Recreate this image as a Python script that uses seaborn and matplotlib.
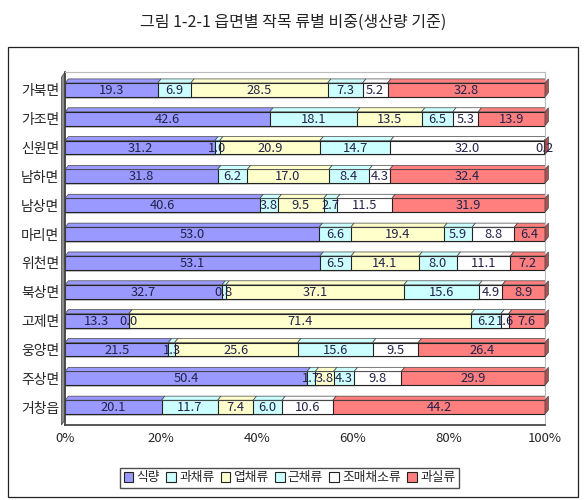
import numpy as np
import pandas as pd
import matplotlib
matplotlib.use("Agg")
import matplotlib.pyplot as plt
from matplotlib.patches import Rectangle, Polygon
import seaborn as sns

# 읍면 (top to bottom as drawn)
regions = ['가북면', '가조면', '신원면', '남하면', '남상면', '마리면',
           '위천면', '북상면', '고제면', '웅양면', '주상면', '거창읍']
categories = ['식량', '과채류', '엽채류', '근채류', '조매채소류', '과실류']

food = [19.3, 42.6, 31.2, 31.8, 40.6, 53.0, 53.1, 32.7, 13.3, 21.5, 50.4, 20.1]
fruit_veg = [6.9, 18.1, 1.0, 6.2, 3.8, 6.6, 6.5, 0.8, 0.0, 1.3, 1.7, 11.7]
leaf_veg = [28.5, 13.5, 20.9, 17.0, 9.5, 19.4, 14.1, 37.1, 71.4, 25.6, 3.8, 7.4]
root_veg = [7.3, 6.5, 14.7, 8.4, 2.7, 5.9, 8.0, 15.6, 6.2, 15.6, 4.3, 6.0]
spice_veg = [5.2, 5.3, 32.0, 4.3, 11.5, 8.8, 11.1, 4.9, 1.6, 9.5, 9.8, 10.6]
fruit = [32.8, 13.9, 0.2, 32.4, 31.9, 6.4, 7.2, 8.9, 7.6, 26.4, 29.9, 44.2]

colors = ['#9999FF', '#CCFFFF', '#FFFFCC', '#CCFFFF', '#FFFFFF', '#FF7F7F']

df = pd.DataFrame({'region': regions, '식량': food, '과채류': fruit_veg,
                   '엽채류': leaf_veg, '근채류': root_veg,
                   '조매채소류': spice_veg, '과실류': fruit})
vals = df[categories].to_numpy()
pct = vals / vals.sum(axis=1, keepdims=True) * 100
cum = np.cumsum(pct, axis=1)

sns.set_theme(style='white')
plt.rcParams['font.family'] = ['Noto Sans CJK KR', 'DejaVu Sans']

fig = plt.figure(figsize=(5.86, 5.0), dpi=100)
ax = fig.add_axes([0.111, 0.15, 0.819, 0.706])

# stacked bars: draw cumulative totals from the longest down
for i in range(len(categories) - 1, -1, -1):
    sub = pd.DataFrame({'region': regions, 'x': cum[:, i]})
    sns.barplot(data=sub, x='x', y='region', orient='h', color=colors[i],
                width=0.48, edgecolor='#222222', linewidth=0.8,
                saturation=1, ax=ax, label=categories[i])

# 3D top strip and end face on each bar
dx, dy = 0.7, 0.14
for r in range(len(regions)):
    y_top = r - 0.24
    left = 0
    for i in range(len(categories)):
        right = cum[r, i]
        poly = Polygon([[left, y_top], [right, y_top],
                        [right + dx, y_top - dy], [left + dx, y_top - dy]],
                       closed=True, facecolor=colors[i], edgecolor='#444444',
                       linewidth=0.5, zorder=1)
        ax.add_patch(poly)
        left = right
    side = Polygon([[100, r - 0.24], [100 + dx, r - 0.24 - dy],
                    [100 + dx, r + 0.24 - dy], [100, r + 0.24]],
                   closed=True, facecolor='#B05050', edgecolor='#444444',
                   linewidth=0.5, zorder=3, clip_on=False)
    ax.add_patch(side)

# value labels
for r in range(len(regions)):
    left = 0
    for i in range(len(categories)):
        w = pct[r, i]
        ax.text(left + w / 2, r + 0.02, f'{vals[r, i]:.1f}', ha='center',
                va='center', fontsize=9.3, color='#22224A', zorder=5)
        left += w

ax.set_xlim(0, 100)
ax.set_ylim(11.62, -0.62)
ax.set_xticks([0, 20, 40, 60, 80, 100])
ax.set_xticklabels(['0%', '20%', '40%', '60%', '80%', '100%'], fontsize=9.5)
ax.set_xlabel('')
ax.set_ylabel('')
ax.tick_params(axis='y', labelsize=10, pad=4, length=0)
ax.tick_params(axis='x', length=3, direction='out', pad=2, color='#444444')
for s in ['top', 'right']:
    ax.spines[s].set_color('#BBBBBB')
    ax.spines[s].set_linewidth(0.8)
ax.spines['bottom'].set_color('#444444')
ax.spines['left'].set_color('#444444')

# grey left wall
wall = Polygon([[-0.0075, 0.0], [0.0, 0.015], [0.0, 1.0], [-0.0075, 0.985]],
               closed=True, transform=ax.transAxes, facecolor='#8C8C8C',
               edgecolor='#555555', linewidth=0.6, clip_on=False, zorder=0)
ax.add_patch(wall)

# legend
handles = [Rectangle((0, 0), 1, 1, facecolor=c, edgecolor='#222222',
                     linewidth=0.8) for c in colors]
fig.legend(handles, categories, loc='center', bbox_to_anchor=(0.494, 0.044),
           ncol=6, fontsize=9.2, frameon=True, fancybox=False,
           edgecolor='#222222', handlelength=0.75, handleheight=0.75,
           handletextpad=0.25, columnspacing=0.5, borderpad=0.3)
if ax.get_legend() is not None:
    ax.get_legend().remove()

# outer frame and title
fig.add_artist(Rectangle((8 / 586, 3 / 500), 570 / 586, 450 / 500,
                         transform=fig.transFigure, fill=False,
                         edgecolor='#222222', linewidth=0.9))
fig.text(0.5, 0.955, '그림 1-2-1 읍면별 작목 류별 비중(생산량 기준)',
         ha='center', va='center', fontsize=11.5, color='#222222')

fig.savefig('out.png', dpi=100)
